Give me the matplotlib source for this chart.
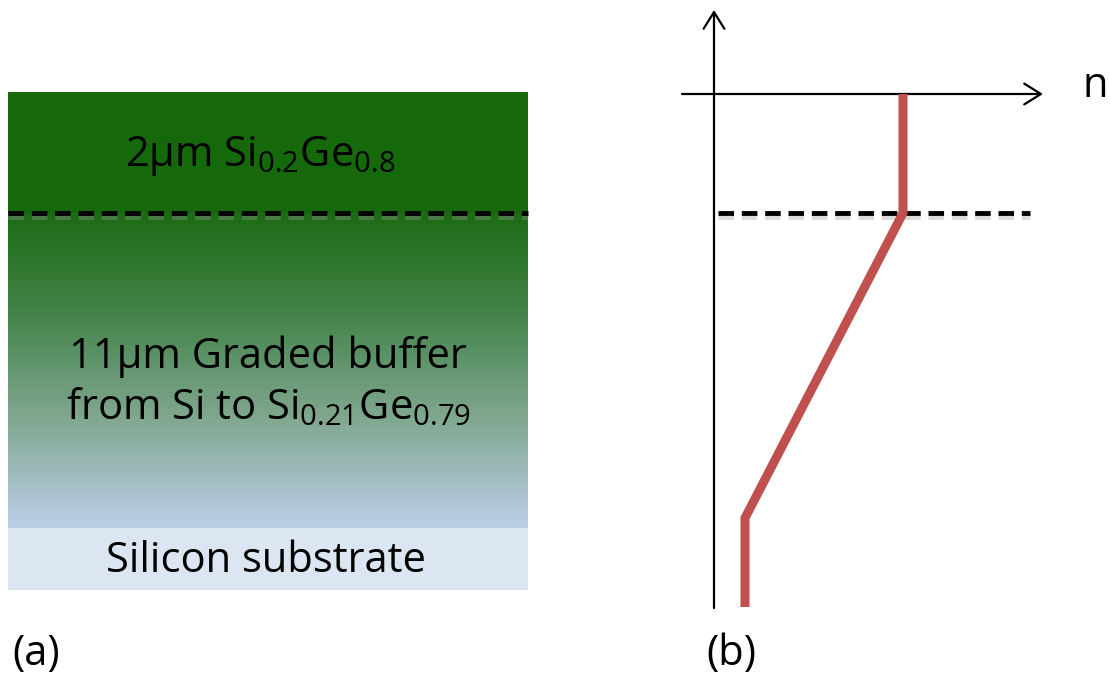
import numpy as np
import matplotlib
matplotlib.use('Agg')
import matplotlib.pyplot as plt
from matplotlib.colors import LinearSegmentedColormap

plt.rcParams['font.family'] = ['Open Sans', 'DejaVu Sans']
plt.rcParams['mathtext.fontset'] = 'custom'
plt.rcParams['mathtext.rm'] = 'Open Sans'

# ── Layer stack (pixel coordinates, y down) ───────────────────────────────────
stack_left, stack_right = 8, 528
top_layer = (92, 213)       # 2um Si0.2Ge0.8
graded_layer = (213, 528)   # graded buffer
substrate = (528, 590)      # silicon substrate

layer_labels = [
    r'2µm Si$_{0.2}$Ge$_{0.8}$',
    '11µm Graded buffer\n' + r'from Si to Si$_{0.21}$Ge$_{0.79}$',
    'Silicon substrate',
]

# ── Refractive index profile (b) ──────────────────────────────────────────────
profile_x = [903, 903, 745, 745]
profile_y = [94, 213, 518, 607]

col_top = '#16690a'
col_grad_end = '#bccfe8'
col_sub = '#dce6f2'
col_red = '#c0504d'

fig = plt.figure(figsize=(11.1, 6.74), dpi=100)
ax = fig.add_axes([0, 0, 1, 1])
ax.set_xlim(0, 1110)
ax.set_ylim(674, 0)
ax.axis('off')

# top layer
ax.fill_between([stack_left, stack_right], top_layer[0], top_layer[1],
                color=col_top, linewidth=0)
# graded buffer as a vertical gradient
cmap = LinearSegmentedColormap.from_list(
    'grad', [(0, '#1d6b14'), (0.3, '#408246'), (0.65, '#80a78f'), (1, col_grad_end)])
grad = np.linspace(0, 1, 256).reshape(-1, 1)
ax.imshow(grad, cmap=cmap, aspect='auto',
          extent=[stack_left, stack_right, graded_layer[1], graded_layer[0]], zorder=1)
# substrate
ax.fill_between([stack_left, stack_right], substrate[0], substrate[1],
                color=col_sub, linewidth=0, zorder=1)

fs = 30
ax.text(260, 156, layer_labels[0], ha='center', va='center', fontsize=fs, zorder=3)
ax.text(268, 382, layer_labels[1], ha='center', va='center', fontsize=fs,
        linespacing=1.25, zorder=3)
ax.text(266, 561, layer_labels[2], ha='center', va='center', fontsize=fs, zorder=3)

# dashed interface lines (with a soft shadow)
for x0, x1 in [(stack_left, stack_right), (718, 1030)]:
    ax.plot([x0, x1], [217, 217], color='#9a9a9a', lw=3.5, ls=(0, (3.2, 1.6)),
            alpha=0.35, zorder=3)
    ax.plot([x0, x1], [213, 213], color='black', lw=3.5, ls=(0, (3.2, 1.6)), zorder=4)

# axes of panel (b)
arrow = dict(arrowstyle='->,head_length=1.2,head_width=0.75', lw=1.6, color='black',
             shrinkA=0, shrinkB=0)
ax.annotate('', xy=(714, 10), xytext=(714, 608), arrowprops=arrow)
ax.annotate('', xy=(1043, 94), xytext=(682, 94), arrowprops=arrow)
ax.text(1095, 86, 'n', ha='center', va='center', fontsize=fs)

# profile
ax.plot(profile_x, profile_y, color=col_red, lw=6.5, solid_joinstyle='miter',
        solid_capstyle='butt', zorder=5)

ax.text(36, 654, '(a)', ha='center', va='center', fontsize=fs)
ax.text(731, 654, '(b)', ha='center', va='center', fontsize=fs)

plt.savefig('out.png', dpi=100)
